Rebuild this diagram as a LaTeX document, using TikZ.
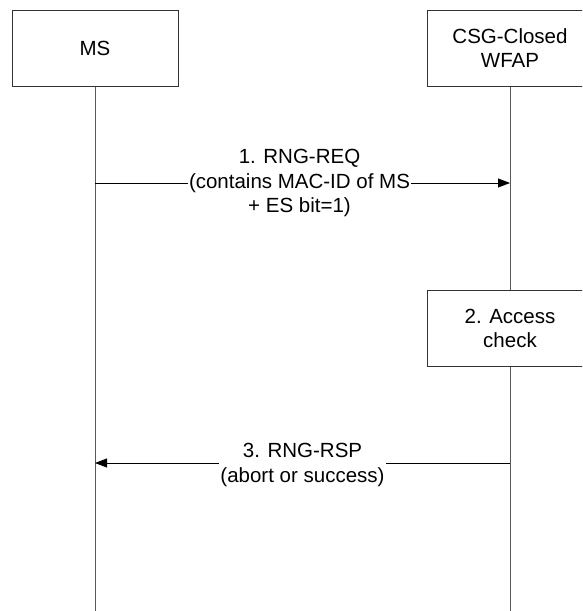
\documentclass[tikz,border=0pt]{standalone}
\usepackage{fontspec}
\setmainfont{Liberation Sans}
\usetikzlibrary{arrows.meta}
\begin{document}
\begin{tikzpicture}[x=1pt,y=-1pt,
  entity/.style={draw=black!80, line width=1pt, minimum width=166pt,
    minimum height=76pt, align=center, inner sep=0pt,
    font=\fontsize{20.5}{24}\selectfont},
  lifeline/.style={draw=black!65, line width=1pt},
  msg/.style={draw=black, line width=0.8pt,
    -{Triangle[length=12pt,width=9pt]}},
  msglabel/.style={fill=white, align=center, inner sep=1pt,
    font=\fontsize{20.5}{24.5}\selectfont}]
\useasboundingbox (0,0) rectangle (582,611);
\clip (0,0) rectangle (582,611);

% entities
\node[entity] (ms)    at (95,48.5)  {MS};
\node[entity] (wfap)  at (510,48.5) {CSG-Closed\\WFAP};
\node[entity] (check) at (510,328.5) {2. Access\\check};

% lifeline ends
\coordinate (msend)   at (95,611);
\coordinate (wfapend) at (510,611);

\draw[lifeline] (ms.south) -- (msend);
\draw[lifeline] (wfap.south) -- (check.north);
\draw[lifeline] (check.south) -- (wfapend);

% messages
\coordinate (m1a) at (95,183);
\coordinate (m1b) at (510,183);
\coordinate (m3a) at (510,463);
\coordinate (m3b) at (95,463);

\draw[msg] (m1a) -- node[msglabel, xshift=-3pt] {1. RNG-REQ\\(contains MAC-ID of MS\\+ ES bit=1)} (m1b);
\draw[msg] (m3a) -- node[msglabel, yshift=-2pt] {3. RNG-RSP\\(abort or success)} (m3b);
\end{tikzpicture}
\end{document}
